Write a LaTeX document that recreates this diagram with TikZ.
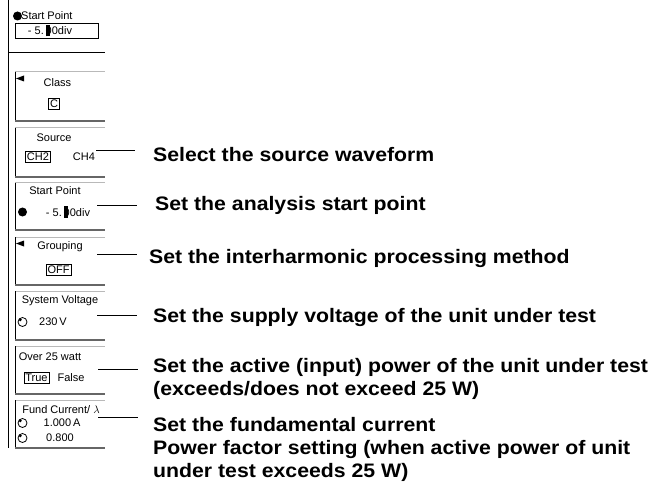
\documentclass[tikz,border=0pt]{standalone}
\usepackage{fontspec}
\usepackage{xcolor}
\newfontfamily\panelfont{Liberation Sans}
\newfontfamily\lblfont[FakeStretch=1.09]{Liberation Sans}
\newcommand{\curz}{\rlap{\rule[-0.15em]{0.35em}{1.05em}}0}
\begin{document}
\begin{tikzpicture}[x=1pt,y=-1pt,
  ptxt/.style={font=\panelfont\fontsize{11}{12}\selectfont, inner sep=0pt, anchor=center},
  lbl/.style={font=\lblfont\bfseries\fontsize{19.5}{22.7}\selectfont, inner sep=0pt, anchor=base west, align=left},
  conn/.style={line width=1pt, black},
  boxtop/.style={line width=1pt, gray!55},
  boxbot/.style={line width=1.6pt, gray!80!black},
  boxleft/.style={line width=0.8pt, black},
  chip/.style={draw, line width=0.6pt, inner sep=1.5pt, font=\panelfont\fontsize{11}{12}\selectfont},
  knob/.style={draw, circle, line width=0.8pt, minimum size=9pt, inner sep=0pt}
]
\useasboundingbox (0,0) rectangle (652,486);

% left edge of panel
\draw[line width=0.8pt] (8.5,0) -- (8.5,448);
\draw[line width=1pt] (8.5,53) -- (105,53);

% top start point
\fill (17.5,16) circle (4.5);
\node[ptxt, anchor=west] (tsp) at (21,16) {Start Point};
\draw[line width=0.8pt] (15,23) rectangle (98,38);
\node[ptxt] (tspv) at (50,30.5) {- 5.\,\curz0div};

% panel boxes: top, left, bottom
\foreach \t/\b in {72/121, 128/177, 183/230, 237/285, 291/340, 346/394, 400/448}{
  \draw[boxtop] (15,\t) -- (105,\t);
  \draw[boxleft] (15,\t) -- (15,\b);
  \draw[boxbot] (15,\b) -- (105,\b);
}

% Class
\fill (16,78.5) -- (24,75.5) -- (24,81.5) -- cycle;
\node[ptxt] (cls) at (57.5,83) {Class};
\node[chip] (clsv) at (54,104) {C};

% Source
\node[ptxt] (src) at (54,138) {Source};
\node[chip] (ch2) at (38,157) {CH2};
\node[ptxt] (ch4) at (84,157) {CH4};

% Start point
\node[ptxt] (sp) at (55,191) {Start Point};
\fill (22.5,212) circle (4.5);
\node[ptxt] (spv) at (68,212) {- 5.\,\curz0div};

% Grouping
\fill (16,243.5) -- (24,240.5) -- (24,246.5) -- cycle;
\node[ptxt] (grp) at (60,247) {Grouping};
\node[chip] (off) at (58.5,270) {OFF};

% System voltage
\node[ptxt] (sv) at (60,301) {System Voltage};
\node[knob] (k1) at (22.5,322) {};
\fill (20.3,319.8) circle (1.6);
\node[ptxt] (svv) at (53,322) {230\,V};

% Over 25 watt
\node[ptxt] (ow) at (50,357) {Over 25 watt};
\node[chip] (tru) at (36.5,378) {True};
\node[ptxt] (fls) at (71,378) {False};

% Fund current
\node[ptxt] (fc) at (61,410) {Fund Current/ $\lambda$};
\node[knob] (k2) at (22.5,423) {};
\fill (20.3,420.8) circle (1.6);
\node[ptxt] (fcv) at (62,423) {1.000\,A};
\node[knob] (k3) at (22.5,438) {};
\fill (20.3,435.8) circle (1.6);
\node[ptxt] (pfv) at (60,438) {0.800};

% labels (base = baseline of last line)
\node[lbl] (t1) at (153,162) {Select the source waveform};
\node[lbl] (t2) at (155,211) {Set the analysis start point};
\node[lbl] (t3) at (149,263) {Set the interharmonic processing method};
\node[lbl] (t4) at (153,322) {Set the supply voltage of the unit under test};
\node[lbl] (t5) at (153,395) {Set the active (input) power of the unit under test\\(exceeds/does not exceed 25 W)};
\node[lbl] (t6) at (153,477) {Set the fundamental current\\Power factor setting (when active power of unit\\under test exceeds 25 W)};

% connectors
\coordinate (a1) at (96,151);  \coordinate (b1) at (135,151);
\coordinate (a2) at (97,206);  \coordinate (b2) at (137,206);
\coordinate (a3) at (97,254);  \coordinate (b3) at (137,254);
\coordinate (a4) at (97,315);  \coordinate (b4) at (137,315);
\coordinate (a5) at (98,369);  \coordinate (b5) at (138,369);
\coordinate (a6) at (98,417);  \coordinate (b6) at (138,417);
\foreach \i in {1,...,6}{ \draw[conn] (a\i) -- (b\i); }
\end{tikzpicture}
\end{document}
